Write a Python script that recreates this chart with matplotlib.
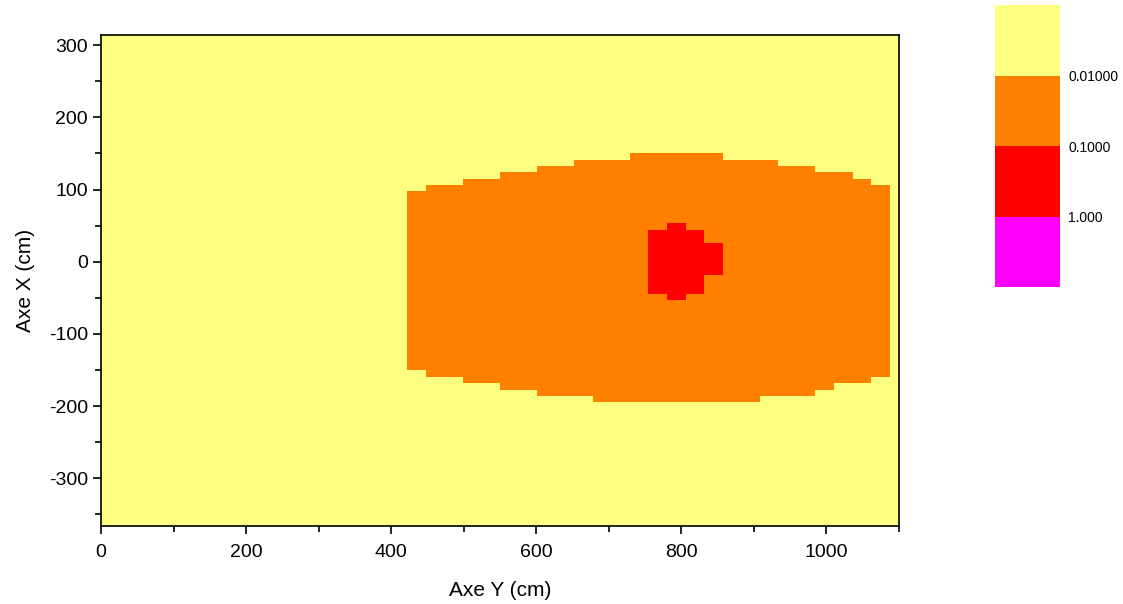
import numpy as np
import matplotlib
matplotlib.use("Agg")
import matplotlib.pyplot as plt
from matplotlib.colors import ListedColormap, BoundaryNorm
from matplotlib.ticker import MultipleLocator

plt.rcParams["font.family"] = ["Liberation Sans", "DejaVu Sans"]
plt.rcParams["axes.unicode_minus"] = False

# dose grid (cm): 44 columns along Y, rows of 8.85 cm along X
x_grid = np.linspace(0, 1100, 44)
y_grid = (np.arange(-42, 36) + 0.5) * 8.85

# region 0.01 - 0.1 : columns 17..42, upper / lower limit in cm
orange_first_col = 17
orange_top = [97, 106, 106, 115, 115, 124, 124, 133, 133, 142, 142, 142,
              150, 150, 150, 150, 150, 142, 142, 142, 133, 133, 124, 124, 115, 106]
orange_bottom = [-150, -159, -159, -168, -168, -177, -177, -186, -186, -186,
                 -195, -195, -195, -195, -195, -195, -195, -195, -195,
                 -186, -186, -186, -177, -168, -168, -159]

# region 0.1 - 1 : columns 30..33
red_first_col = 30
red_top = [44, 53, 44, 27]
red_bottom = [-44, -53, -44, -18]

levels = [0.001, 0.01, 0.1, 1, 10]
colors = ["#FFFF80", "#FF8000", "#FF0000", "#FF00FF"]
level_labels = ["0.01000", "0.1000", "1.000"]

dose = np.full((len(y_grid), len(x_grid)), 0.005)
for j, (top, bot) in enumerate(zip(orange_top, orange_bottom)):
    col = orange_first_col + j
    dose[(y_grid < top) & (y_grid > bot), col] = 0.05
for j, (top, bot) in enumerate(zip(red_top, red_bottom)):
    col = red_first_col + j
    dose[(y_grid < top) & (y_grid > bot), col] = 0.5

cmap = ListedColormap(colors)
norm = BoundaryNorm(levels, cmap.N)

fig = plt.figure(figsize=(11.23, 6.04), dpi=100)
ax = fig.add_axes([0.0899, 0.1291, 0.7106, 0.8129])
ax.pcolormesh(x_grid, y_grid, dose, shading="nearest", cmap=cmap, norm=norm)
ax.set_xlim(0, 1100)
ax.set_ylim(-366, 314)
ax.xaxis.set_major_locator(MultipleLocator(200))
ax.xaxis.set_minor_locator(MultipleLocator(100))
ax.yaxis.set_major_locator(MultipleLocator(100))
ax.yaxis.set_minor_locator(MultipleLocator(50))
ax.tick_params(which="both", direction="out", top=False, right=False,
               labelsize=14, width=1.2)
ax.tick_params(which="major", length=6)
ax.tick_params(which="minor", length=4)
ax.tick_params(axis="x", which="major", pad=7)
for s in ax.spines.values():
    s.set_linewidth(1.2)
ax.set_xlabel("Axe Y (cm)", fontsize=15, labelpad=14)
ax.set_ylabel("Axe X (cm)", fontsize=15, labelpad=10)

# colour scale
cax = fig.add_axes([0.886, 0.5248, 0.058, 0.4669])
cb = fig.colorbar(plt.cm.ScalarMappable(norm=norm, cmap=cmap), cax=cax,
                  spacing="uniform", ticks=levels[1:4])
cb.outline.set_visible(False)
cb.ax.minorticks_off()
cb.ax.invert_yaxis()
cb.ax.set_yticklabels(level_labels)
cb.ax.tick_params(which="both", length=0, labelsize=10, pad=6)

fig.savefig("out.png", dpi=100)
